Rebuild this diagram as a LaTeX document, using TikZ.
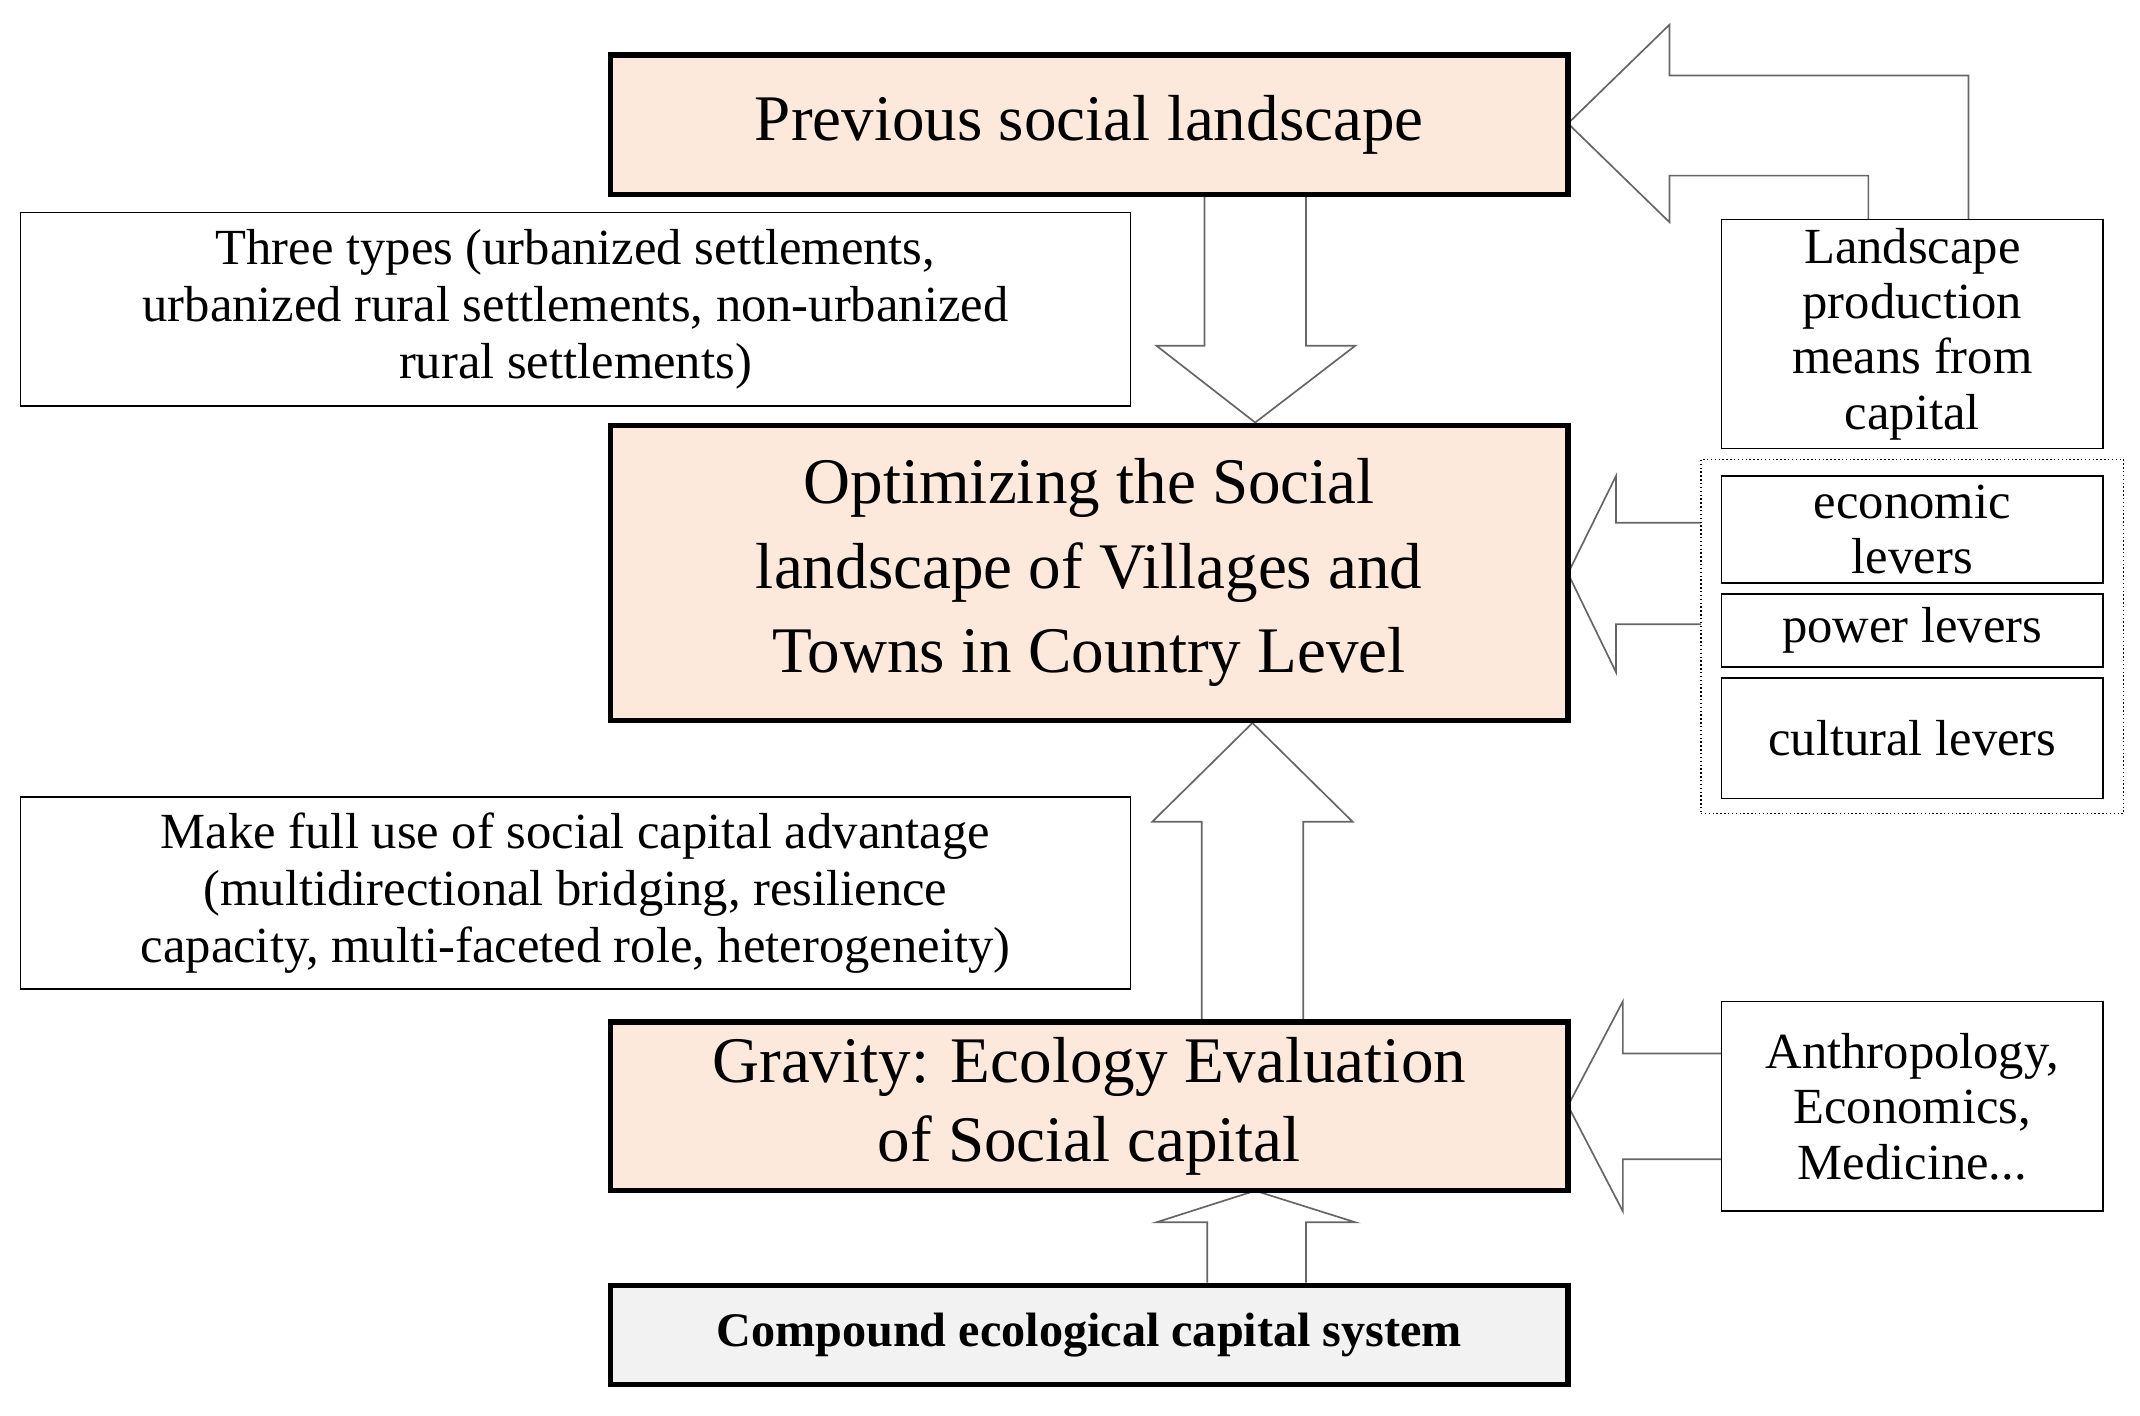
\documentclass[tikz,border=0pt]{standalone}
\usepackage{fontspec}
\setmainfont{Liberation Serif}
\usetikzlibrary{fit}
\definecolor{peach}{HTML}{FCE9DC}
\definecolor{lgray}{HTML}{F2F2F2}
\tikzset{
 mainbox/.style={draw=black,line width=2.2pt,fill=peach,inner sep=0pt,align=center},
 sidebox/.style={draw=black,line width=0.7pt,fill=white,inner sep=0pt,align=center},
 blockarrow/.style={draw=black!60,line width=0.7pt,fill=white}
}
\begin{document}
\begin{tikzpicture}[x=0.02cm,y=-0.02cm]
\useasboundingbox (0,0) rectangle (1560,1032);
% block arrows
\draw[blockarrow] (878,142) -- (878,252) -- (843,252) -- (915,308) -- (988,252) -- (952,252) -- (952,142);
\draw[blockarrow] (876,745) -- (876,599) -- (840,599) -- (913,527) -- (986,599) -- (950,599) -- (950,745);
\draw[blockarrow] (880,935) -- (880,891) -- (843,891) -- (915,868) -- (988,891) -- (952,891) -- (952,935);
\draw[blockarrow] (1435,160) -- (1435,55) -- (1217,55) -- (1217,18) -- (1143,90) -- (1217,162) -- (1217,128) -- (1362,128) -- (1362,160);
\draw[blockarrow] (1240,381) -- (1178,381) -- (1178,347) -- (1143,418) -- (1178,490) -- (1178,455) -- (1240,455);
\draw[blockarrow] (1255,768) -- (1183,768) -- (1183,730) -- (1143,806) -- (1183,883) -- (1183,845) -- (1255,845);
% main boxes
\node[mainbox,fit={(445,40)(1143,142)},font=\fontsize{27}{32}\selectfont] (prev) {};
\node[font=\fontsize{27}{32}\selectfont] at (prev.center) {Previous social landscape};
\node[mainbox,fit={(445,310)(1143,525)}] (opt) {};
\node[font=\fontsize{27}{35}\selectfont,align=center] at (opt.center) {Optimizing the Social\\landscape of Villages and\\Towns in Country Level};
\node[mainbox,fit={(445,745)(1143,868)}] (grav) {};
\node[font=\fontsize{27}{33}\selectfont,align=center] at (grav.center) {Gravity: Ecology Evaluation\\of Social capital};
\node[mainbox,fill=lgray,fit={(445,937)(1143,1009)}] (comp) {};
\node[font=\bfseries\fontsize{20}{24}\selectfont] at (comp.center) {Compound ecological capital system};
% side boxes
\node[sidebox,fit={(15,155)(824,296)}] (three) {};
\node[font=\fontsize{21}{23.5}\selectfont,align=center] at (three.center) {Three types (urbanized settlements,\\urbanized rural settlements, non-urbanized\\rural settlements)};
\node[sidebox,fit={(15,581)(824,721)}] (make) {};
\node[font=\fontsize{21}{23.5}\selectfont,align=center] at (make.center) {Make full use of social capital advantage\\(multidirectional bridging, resilience\\capacity, multi-faceted role, heterogeneity)};
\node[sidebox,fit={(1255,160)(1533,327)}] (land) {};
\node[font=\fontsize{21}{23}\selectfont,align=center] at (land.center) {Landscape\\production\\means from\\capital};
\node[draw=black,densely dotted,line width=0.6pt,inner sep=0pt,fit={(1240,335)(1548,593)}] (levers) {};
\node[sidebox,fit={(1255,347)(1533,425)}] (eco) {};
\node[font=\fontsize{21}{23}\selectfont,align=center] at (eco.center) {economic\\levers};
\node[sidebox,fit={(1255,433)(1533,486)}] (pow) {};
\node[font=\fontsize{21}{23}\selectfont] at (pow.center) {power levers};
\node[sidebox,fit={(1255,494)(1533,582)}] (cul) {};
\node[font=\fontsize{21}{23}\selectfont] at (cul.center) {cultural levers};
\node[sidebox,fit={(1255,730)(1533,883)}] (anth) {};
\node[font=\fontsize{21}{23}\selectfont,align=center] at (anth.center) {Anthropology,\\Economics,\\Medicine...};
\end{tikzpicture}
\end{document}
